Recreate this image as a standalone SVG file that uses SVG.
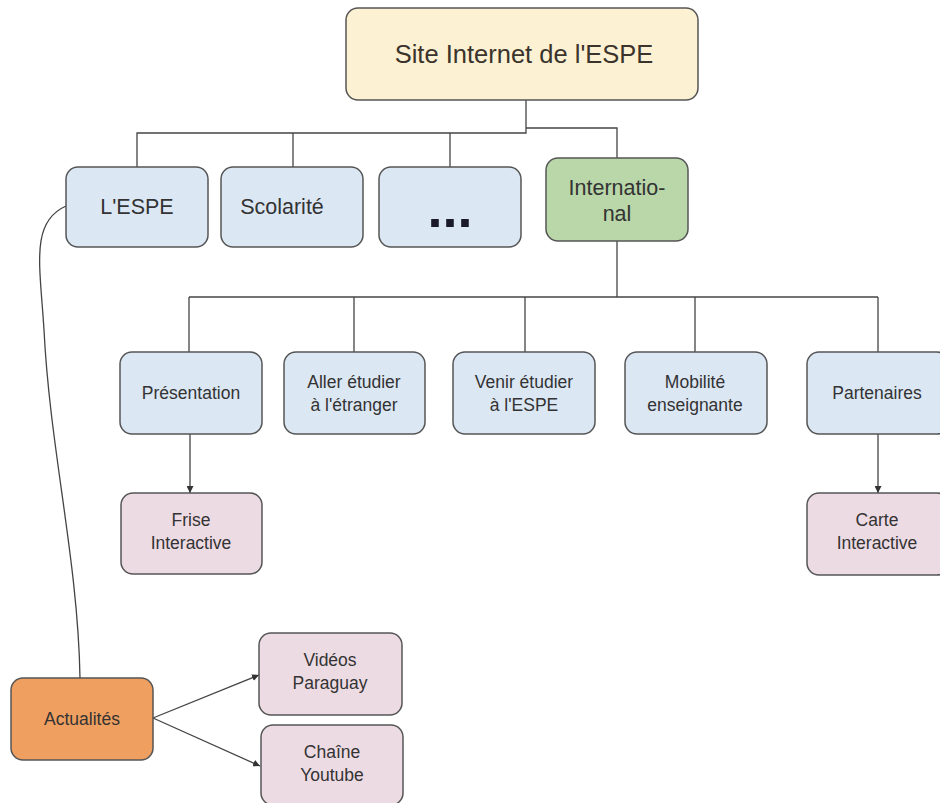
<svg xmlns="http://www.w3.org/2000/svg" width="940" height="803" viewBox="0 0 940 803">
<defs>
<marker id="ah" viewBox="0 0 10 10" refX="10" refY="5" markerWidth="7" markerHeight="7" markerUnits="userSpaceOnUse" orient="auto"><path d="M0,0 L10,5 L0,10 z" fill="#333"/></marker>
<style>
.n rect{stroke:#555;stroke-width:1.5}
.top rect{fill:#fdf1d3}
.blue rect{fill:#dce7f4}
.green rect{fill:#b9d7a8}
.pink rect{fill:#eddbe4}
.orange rect{fill:#ef9f5f}
text{font-family:"Liberation Sans",Arial,sans-serif;fill:#333;text-anchor:middle}
.s13{font-size:17.5px}
.s16{font-size:21.5px}
.c line,.c path,.c polyline{stroke:#444;stroke-width:1.3;fill:none}
</style>
</defs>
<rect width="940" height="803" fill="#fff"/>
<g class="c" id="connectors">
<polyline points="526,100 526,133 137,133 137,167"/>
<line x1="293" y1="133" x2="293" y2="167"/>
<line x1="450" y1="133" x2="450" y2="167"/>
<polyline points="526,128 617,128 617,158"/>
<polyline points="617,241 617,297"/>
<line x1="189" y1="297" x2="878" y2="297"/>
<line x1="189" y1="297" x2="189" y2="352"/>
<line x1="354" y1="297" x2="354" y2="352"/>
<line x1="525" y1="297" x2="525" y2="352"/>
<line x1="695" y1="297" x2="695" y2="352"/>
<line x1="878" y1="297" x2="878" y2="352"/>
<line x1="190" y1="434" x2="190" y2="493" marker-end="url(#ah)"/>
<line x1="878" y1="434" x2="878" y2="493" marker-end="url(#ah)"/>
<path d="M66,206 C30,222 40,265 44,330 C50,450 78,560 80,678"/>
<line x1="153" y1="718" x2="259" y2="675" marker-end="url(#ah)"/>
<line x1="153" y1="718" x2="260" y2="766" marker-end="url(#ah)"/>
</g>
<g id="site" class="n top"><rect x="346" y="8" width="352" height="92" rx="12"/><text x="524" y="63" style="font-size:25.5px;fill:#3a342c">Site Internet de l'ESPE</text></g>
<g id="lespe" class="n blue"><rect x="66" y="167" width="142" height="80" rx="12"/><text class="s16" x="137" y="214">L'ESPE</text></g>
<g id="scolarite" class="n blue"><rect x="221" y="167" width="142" height="80" rx="12"/><text class="s16" x="282" y="214">Scolarité</text></g>
<g id="etc" class="n blue"><rect x="379" y="167" width="142" height="80" rx="12"/><text x="450" y="227" style="font-size:54px;font-weight:bold;fill:#1a1a2a">...</text></g>
<g id="international" class="n green"><rect x="546" y="158" width="142" height="83" rx="12"/><text class="s16" x="617" y="195">Internatio-</text><text class="s16" x="617" y="221">nal</text></g>
<g id="presentation" class="n blue"><rect x="120" y="352" width="142" height="82" rx="12"/><text class="s13" x="191" y="399">Présentation</text></g>
<g id="aller" class="n blue"><rect x="284" y="352" width="141" height="82" rx="12"/><text class="s13" x="354" y="388">Aller étudier</text><text class="s13" x="354" y="411">à l'étranger</text></g>
<g id="venir" class="n blue"><rect x="453" y="352" width="142" height="82" rx="12"/><text class="s13" x="524" y="388">Venir étudier</text><text class="s13" x="524" y="411">à l'ESPE</text></g>
<g id="mobilite" class="n blue"><rect x="625" y="352" width="142" height="82" rx="12"/><text class="s13" x="695" y="388">Mobilité</text><text class="s13" x="695" y="411">enseignante</text></g>
<g id="partenaires" class="n blue"><rect x="807" y="352" width="142" height="82" rx="12"/><text class="s13" x="877" y="399">Partenaires</text></g>
<g id="frise" class="n pink"><rect x="121" y="493" width="141" height="81" rx="12"/><text class="s13" x="191" y="526">Frise</text><text class="s13" x="191" y="549">Interactive</text></g>
<g id="carte" class="n pink"><rect x="807" y="493" width="142" height="82" rx="12"/><text class="s13" x="877" y="526">Carte</text><text class="s13" x="877" y="549">Interactive</text></g>
<g id="actualites" class="n orange"><rect x="11" y="678" width="142" height="82" rx="12"/><text class="s13" x="82" y="725">Actualités</text></g>
<g id="videos" class="n pink"><rect x="259" y="633" width="143" height="82" rx="12"/><text class="s13" x="330" y="666">Vidéos</text><text class="s13" x="330" y="689">Paraguay</text></g>
<g id="chaine" class="n pink"><rect x="261" y="725" width="142" height="80" rx="12"/><text class="s13" x="332" y="758">Chaîne</text><text class="s13" x="332" y="781">Youtube</text></g>
</svg>
